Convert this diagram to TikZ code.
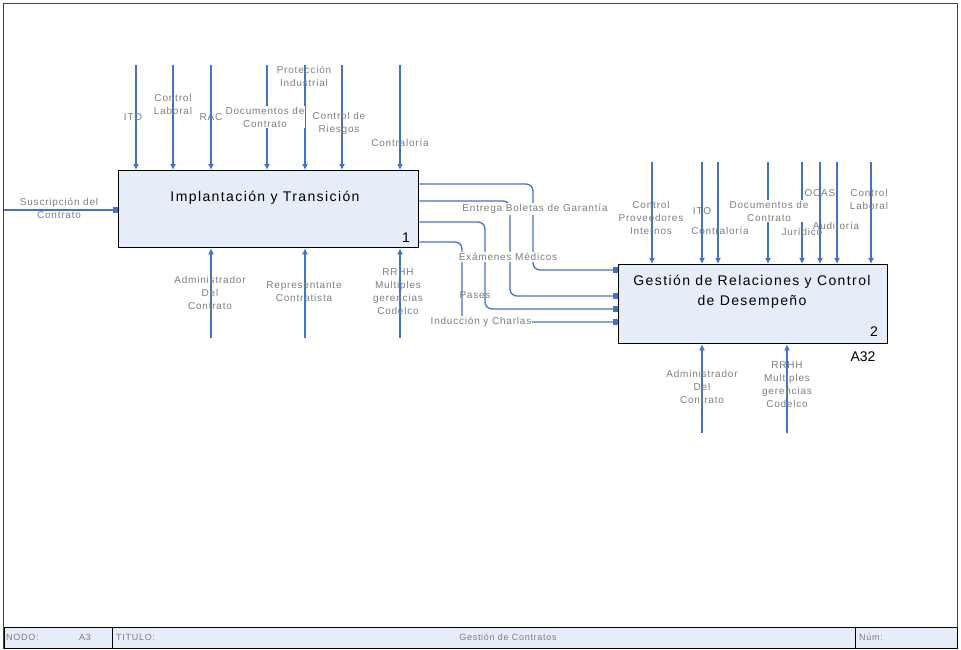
\documentclass[tikz,border=0pt]{standalone}
\usepackage{fontspec}
\setmainfont{Liberation Sans}
\newfontfamily\lblfont[LetterSpace=8]{Liberation Sans}
\newfontfamily\ttlfont[LetterSpace=10]{Liberation Sans}
\usetikzlibrary{arrows.meta}
\definecolor{idefblue}{RGB}{68,114,196}
\definecolor{boxfill}{RGB}{230,236,248}
\definecolor{lblgray}{RGB}{125,125,125}
\begin{document}
\begin{tikzpicture}[x=1pt,y=-1pt,
  flow/.style={draw=idefblue,line width=1.3pt},
  vin/.style={flow,-{Latex[length=6pt,width=6pt]}},
  hin/.style={flow,-{Square[length=5.5pt,width=5.5pt]}},
  roundbend/.style={rounded corners=7pt},
  lbl/.style={font=\lblfont\fontsize{10}{13}\selectfont,text=lblgray,align=center,inner sep=1pt},
  lblw/.style={lbl,fill=white},
  foot/.style={font=\lblfont\fontsize{9}{11}\selectfont,text=lblgray,inner sep=0pt},
  actbox/.style={draw=black,line width=1.3pt,fill=boxfill,anchor=north west,inner sep=0pt},
  ttl/.style={font=\ttlfont\fontsize{14}{20}\selectfont,align=center,inner sep=0pt},
  boxnum/.style={font=\fontsize{14}{14}\selectfont,inner sep=0pt}]
\useasboundingbox (0,0) rectangle (961,650);
% frame and footer
\draw[black!75,line width=1.6pt] (3.5,3.5) rectangle (957.5,648);
\draw[black,line width=1pt,fill=boxfill] (4,627) rectangle (957,648);
\draw[black,line width=1pt] (112,627) -- (112,648) (855,627) -- (855,648);
\node[foot,anchor=west] (fnodo) at (6,637.5) {NODO:};
\node[foot] (fa3) at (85,637.5) {A3};
\node[foot,anchor=west] (ftit) at (116,637.5) {TITULO:};
\node[foot] (fgc) at (508,637.5) {Gestión de Contratos};
\node[foot,anchor=west] (fnum) at (859,637.5) {Núm:};
% boxes
\node[actbox,minimum width=300pt,minimum height=77pt] (b1) at (118,170) {};
\node[actbox,minimum width=269pt,minimum height=79pt] (b2) at (618,264) {};
\node[ttl] (t1) at (265,198) {Implantación y Transición};
\node[boxnum] (n1) at (406,238) {1};
\node[ttl] (t2) at (752,292) {Gestión de Relaciones y Control\\de Desempeño};
\node[boxnum] (n2) at (874,332) {2};
\node[boxnum] (a32) at (863,357) {A32};
% box 1 controls
\foreach \x [count=\i] in {136,173,211,267,305,342,400} {
  \coordinate (c1t\i) at (\x,65);
  \draw[vin] (c1t\i) -- (c1t\i |- b1.north);
}
% box 1 mechanisms
\foreach \x [count=\i] in {211,305,400} {
  \coordinate (m1b\i) at (\x,338);
  \draw[vin] (m1b\i) -- (m1b\i |- b1.south);
}
% box 1 input
\coordinate (inS) at (4,210);
\draw[hin] (inS) -- (inS -| b1.west);
% box 2 controls
\foreach \x [count=\i] in {652,702,718,768,802,820,837,871} {
  \coordinate (c2t\i) at (\x,162);
  \draw[vin] (c2t\i) -- (c2t\i |- b2.north);
}
% box 2 mechanisms
\foreach \x [count=\i] in {702,787} {
  \coordinate (m2b\i) at (\x,433);
  \draw[vin] (m2b\i) -- (m2b\i |- b2.south);
}
% outputs of box 1 to inputs of box 2
\coordinate (k1a) at (533,184); \coordinate (k1b) at (533,270);
\coordinate (k2a) at (510,201); \coordinate (k2b) at (510,296);
\coordinate (k3a) at (485,222); \coordinate (k3b) at (485,309);
\coordinate (k4a) at (462,242); \coordinate (k4b) at (462,322);
\draw[hin,roundbend] (b1.east |- k1a) -- (k1a) -- (k1b) -- (b2.west |- k1b);
\draw[hin,roundbend] (b1.east |- k2a) -- (k2a) -- (k2b) -- (b2.west |- k2b);
\draw[hin,roundbend] (b1.east |- k3a) -- (k3a) -- (k3b) -- (b2.west |- k3b);
\draw[hin,roundbend] (b1.east |- k4a) -- (k4a) -- (k4b) -- (b2.west |- k4b);
% labels box 1
\node[lbl] (l1) at (133,117) {ITO};
\node[lbl] (l2) at (173,104) {Control\\Laboral};
\node[lbl] (l3) at (211,117) {RAC};
\node[lblw] (l4) at (265,117) {Documentos de\\Contrato};
\node[lbl] (l5) at (304,76) {Protección\\Industrial};
\node[lbl] (l6) at (339,123) {Control de\\Riesgos};
\node[lbl] (l7) at (400,143) {Contraloría};
\node[lbl] (l8) at (59,208) {Suscripción del\\Contrato};
\node[lbl] (l9) at (210,293) {Administrador\\Del\\Contrato};
\node[lbl] (l10) at (304,292) {Representante\\Contratista};
\node[lbl] (l11) at (398,292) {RRHH\\Multiples\\gerencias\\Codelco};
% output labels
\node[lblw] (o1) at (535,209) {Entrega Boletas de Garantía};
\node[lblw] (o2) at (508,257) {Exámenes Médicos};
\node[lbl] (o3) at (475,295) {Pases};
\node[lblw] (o4) at (481,322) {Inducción y Charlas};
% labels box 2
\node[lbl] (r1) at (651,218) {Control\\Proveedores\\Internos};
\node[lbl] (r2) at (702,211) {ITO};
\node[lbl] (r3) at (720,231) {Contraloría};
\node[lblw] (r4) at (769,211) {Documentos de\\Contrato};
\node[lbl] (r5) at (802,232) {Jurídico};
\node[lbl] (r6) at (820,193) {OCAS};
\node[lbl] (r7) at (836,226) {Auditoría};
\node[lbl] (r8) at (869,199) {Control\\Laboral};
\node[lbl] (r9) at (702,387) {Administrador\\Del\\Contrato};
\node[lbl] (r10) at (787,385) {RRHH\\Multiples\\gerencias\\Codelco};
\end{tikzpicture}
\end{document}
